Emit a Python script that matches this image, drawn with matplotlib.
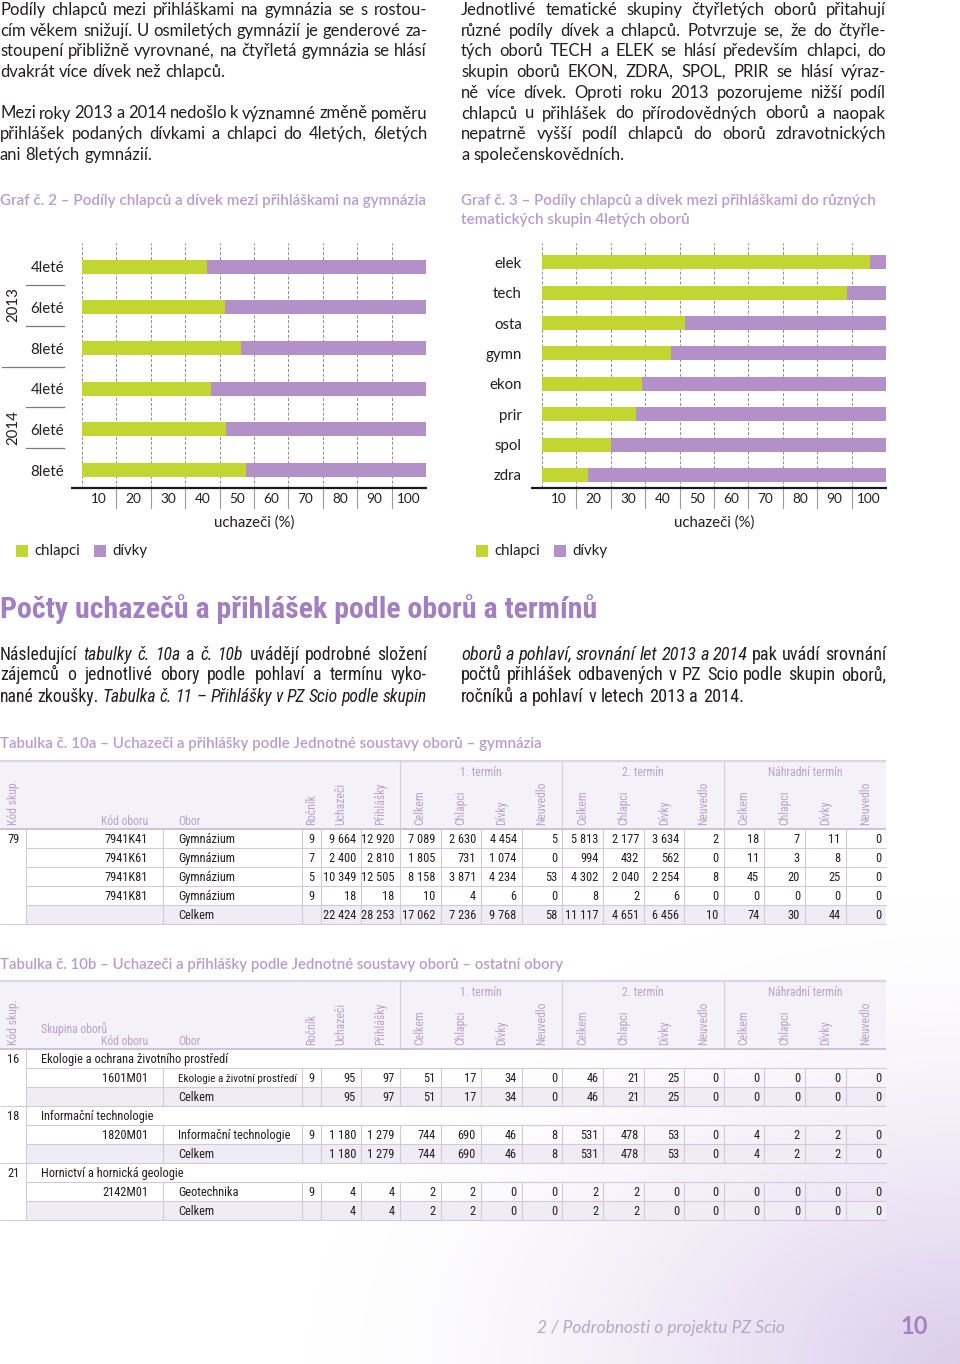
import numpy as np
import matplotlib
matplotlib.use("Agg")
import matplotlib.pyplot as plt
from matplotlib import font_manager as fm
from matplotlib.patches import Rectangle

# ---------------------------------------------------------------- data
gym_labels = ["4leté", "6leté", "8leté", "4leté", "6leté", "8leté"]
gym_years = ["2013", "2014"]
gym_chlapci = [36.4, 41.7, 46.3, 37.4, 41.8, 47.8]
gym_divky = [63.6, 58.3, 53.7, 62.6, 58.2, 52.2]

obor_labels = ["elek", "tech", "osta", "gymn", "ekon", "prir", "spol", "zdra"]
obor_chlapci = [95.3, 88.6, 41.6, 37.4, 29.1, 27.2, 20.0, 13.3]
obor_divky = [4.7, 11.4, 58.4, 62.6, 70.9, 72.8, 80.0, 86.7]

x_tick_labels = ["10", "20", "30", "40", "50", "60", "70", "80", "90", "100"]
legend_labels = ["chlapci", "dívky"]
axis_title = "uchazeči (%)"

col_headers = ["Ročník", "Uchazeči", "Přihlášky",
               "Celkem", "Chlapci", "Dívky", "Neuvedlo",
               "Celkem", "Chlapci", "Dívky", "Neuvedlo",
               "Celkem", "Chlapci", "Dívky", "Neuvedlo"]
term_headers = ["1. termín", "2. termín", "Náhradní termín"]

# Tabulka 10a
t10a_kod_skup = "79"
t10a_kod_oboru = ["7941K41", "7941K61", "7941K81", "7941K81", ""]
t10a_obor = ["Gymnázium", "Gymnázium", "Gymnázium", "Gymnázium", "Celkem"]
t10a_rocnik = ["9", "7", "5", "9", ""]
t10a_uchazeci = [9664, 2400, 10349, 18, 22424]
t10a_prihlasky = [12920, 2810, 12505, 18, 28253]
t10a_t1_celkem = [7089, 1805, 8158, 10, 17062]
t10a_t1_chlapci = [2630, 731, 3871, 4, 7236]
t10a_t1_divky = [4454, 1074, 4234, 6, 9768]
t10a_t1_neuvedlo = [5, 0, 53, 0, 58]
t10a_t2_celkem = [5813, 994, 4302, 8, 11117]
t10a_t2_chlapci = [2177, 432, 2040, 2, 4651]
t10a_t2_divky = [3634, 562, 2254, 6, 6456]
t10a_t2_neuvedlo = [2, 0, 8, 0, 10]
t10a_nt_celkem = [18, 11, 45, 0, 74]
t10a_nt_chlapci = [7, 3, 20, 0, 30]
t10a_nt_divky = [11, 8, 25, 0, 44]
t10a_nt_neuvedlo = [0, 0, 0, 0, 0]

# Tabulka 10b
t10b_group_codes = ["16", "18", "21"]
t10b_group_names = ["Ekologie a ochrana životního prostředí",
                    "Informační technologie",
                    "Hornictví a hornická geologie"]
t10b_kod_oboru = ["1601M01", "", "1820M01", "", "2142M01", ""]
t10b_obor = ["Ekologie a životní prostředí", "Celkem",
             "Informační technologie", "Celkem",
             "Geotechnika", "Celkem"]
t10b_rocnik = ["9", "", "9", "", "9", ""]
t10b_uchazeci = [95, 95, 1180, 1180, 4, 4]
t10b_prihlasky = [97, 97, 1279, 1279, 4, 4]
t10b_t1_celkem = [51, 51, 744, 744, 2, 2]
t10b_t1_chlapci = [17, 17, 690, 690, 2, 2]
t10b_t1_divky = [34, 34, 46, 46, 0, 0]
t10b_t1_neuvedlo = [0, 0, 8, 8, 0, 0]
t10b_t2_celkem = [46, 46, 531, 531, 2, 2]
t10b_t2_chlapci = [21, 21, 478, 478, 2, 2]
t10b_t2_divky = [25, 25, 53, 53, 0, 0]
t10b_t2_neuvedlo = [0, 0, 0, 0, 0, 0]
t10b_nt_celkem = [0, 0, 4, 4, 0, 0]
t10b_nt_chlapci = [0, 0, 2, 2, 0, 0]
t10b_nt_divky = [0, 0, 2, 2, 0, 0]
t10b_nt_neuvedlo = [0, 0, 0, 0, 0, 0]

# texts
left_par1 = ["Podíly chlapců mezi přihláškami na gymnázia se s rostou-",
             "cím věkem snižují. U osmiletých gymnázií je genderové za-",
             "stoupení přibližně vyrovnané, na čtyřletá gymnázia se hlásí",
             "dvakrát více dívek než chlapců."]
left_par2 = ["Mezi roky 2013 a 2014 nedošlo k významné změně poměru",
             "přihlášek podaných dívkami a chlapci do 4letých, 6letých",
             "ani 8letých gymnázií."]
right_par = ["Jednotlivé tematické skupiny čtyřletých oborů přitahují",
             "různé podíly dívek a chlapců. Potvrzuje se, že do čtyřle-",
             "tých oborů TECH a ELEK se hlásí především chlapci, do",
             "skupin oborů EKON, ZDRA, SPOL, PRIR se hlásí výraz-",
             "ně více dívek. Oproti roku 2013 pozorujeme nižší podíl",
             "chlapců u přihlášek do přírodovědných oborů a naopak",
             "nepatrně vyšší podíl chlapců do oborů zdravotnických",
             "a společenskovědních."]

# ---------------------------------------------------------------- style
W, H = 960, 1364
names = {f.name for f in fm.fontManager.ttflist}
BODY = "Lato" if "Lato" in names else "Open Sans"
NARROW = BODY
for cand in ["Liberation Sans Narrow", "Roboto Condensed", "Open Sans Condensed"]:
    if cand in names:
        NARROW = cand
        break
plt.rcParams["font.family"] = [BODY, "DejaVu Sans"]

TXT = "#231f20"
GREEN = "#c1d631"
VIOLET = "#b391c8"
TITLE_V = "#b79dcc"
HEAD_V = "#a27fc0"
HDR_TXT = "#b7a3cc"
HDR_BG = "#f4f1f8"
CELK_BG = "#f0ecf5"
LINE = "#d2cadb"

fig = plt.figure(figsize=(9.6, 13.64), dpi=100)
renderer = fig.canvas.get_renderer()

# background glow (bottom-right)
bg = fig.add_axes([0, 0, 1, 1])
bg.set_zorder(-5)
bg.axis("off")
yy, xx = np.mgrid[0:H:4, 0:W:4]
d = np.hypot(xx - W, (yy - H) * 1.4)
tt = np.clip(1 - d / 650.0, 0, 1) ** 1.5
lil = np.array([0.86, 0.80, 0.92])
img = 1 - tt[..., None] * (1 - lil)
bg.imshow(img, extent=[0, W, H, 0], aspect="auto", interpolation="bilinear")
bg.set_xlim(0, W)
bg.set_ylim(H, 0)

ov = fig.add_axes([0, 0, 1, 1])
ov.set_zorder(1)
ov.set_xlim(0, W)
ov.set_ylim(H, 0)
ov.axis("off")
ov.patch.set_visible(False)


def width(t):
    return t.get_window_extent(renderer=renderer).width


def fit_text(x, y, s, target_w, fs_max, **kw):
    t = ov.text(x, y, s, fontsize=fs_max, **kw)
    w = width(t)
    t.set_fontsize(fs_max * min(1.0, target_w / w))
    return t


def toks(s, style="normal"):
    return [(w, style) for w in s.split()]


def draw_lines(lines, x0, x1, ys, fs, family, justify, color=TXT):
    objs = []
    for line in lines:
        row = [ov.text(0, 0, w, fontsize=fs, family=family, style=st,
                       color=color, va="baseline", ha="left") for w, st in line]
        objs.append(row)
    Wt = x1 - x0
    sp = fs * 100 / 72 * 0.25
    ratio = 1.0
    for row in objs:
        need = sum(width(t) for t in row) + 0.8 * sp * (len(row) - 1)
        ratio = min(ratio, Wt / need)
    if ratio < 1:
        for row in objs:
            for t in row:
                t.set_fontsize(fs * ratio)
        sp *= ratio
    for row, j, y in zip(objs, justify, ys):
        ws = [width(t) for t in row]
        gap = (Wt - sum(ws)) / (len(row) - 1) if (j and len(row) > 1) else sp
        x = x0
        for t, w in zip(row, ws):
            t.set_position((x, y))
            x += w + gap


# ---------------------------------------------------------------- paragraphs
pitch = 20.7
draw_lines([toks(s) for s in left_par1], 0, 427,
           [10 + pitch * k + 5 for k in range(4)], 12, BODY, [1, 1, 1, 0])
draw_lines([toks(s) for s in left_par2], 0, 427,
           [10 + pitch * k + 5 for k in range(5, 8)], 12, BODY, [1, 1, 0])
draw_lines([toks(s) for s in right_par], 461, 886,
           [10 + pitch * k + 5 for k in range(8)], 12, BODY, [1, 1, 1, 1, 1, 1, 1, 0])

fit_text(0, 201, "Graf č. 2 – Podíly chlapců a dívek mezi přihláškami na gymnázia",
         426, 11, color=TITLE_V, weight="semibold", va="center", ha="left")
fit_text(461, 201, "Graf č. 3 – Podíly chlapců a dívek mezi přihláškami do různých",
         414, 11, color=TITLE_V, weight="semibold", va="center", ha="left")
fit_text(461, 220, "tematických skupin 4letých oborů",
         228, 11, color=TITLE_V, weight="semibold", va="center", ha="left")


# ---------------------------------------------------------------- charts
def bar_chart(x_left, x_right, y_top, y_bot, c_first, c_last, labels, ch, dv,
              bar_px, pad_px):
    n = len(labels)
    p = (c_last - c_first) / (n - 1)
    ax = fig.add_axes([x_left / W, 1 - y_bot / H, (x_right - x_left) / W,
                       (y_bot - y_top) / H])
    ax.set_zorder(2)
    ax.patch.set_visible(False)
    y = np.arange(n)
    ax.set_xlim(0, 100)
    ax.set_ylim(n - 1 + (y_bot - c_last) / p, -(c_first - y_top) / p)
    for gx in range(0, 101, 10):
        ax.axvline(gx, color="#8c8c8c", lw=0.7, ls=(0, (3, 2)), zorder=0)
    h = bar_px / p
    ax.barh(y, ch, height=h, color=GREEN, zorder=2, lw=0)
    ax.barh(y, dv, left=ch, height=h, color=VIOLET, zorder=2, lw=0)
    ax.set_yticks(y, labels)
    ax.set_xticks(np.arange(5, 100, 10), x_tick_labels)
    ax.tick_params(axis="y", length=0, pad=pad_px * 0.72, labelsize=10.8,
                   labelcolor=TXT)
    ax.tick_params(axis="x", length=0, pad=3.5, labelsize=9.8, labelcolor=TXT)
    for s in ax.spines.values():
        s.set_visible(False)
    tr = ax.get_xaxis_transform()
    hh = y_bot - y_top
    for gx in range(10, 100, 10):
        ax.plot([gx, gx], [0, -20 / hh], transform=tr, color="#9a9a9a",
                lw=0.8, clip_on=False)
    ax.plot([-11 / (x_right - x_left) * 100, 100.3], [0, 0], transform=tr,
            color="#1a1a1a", lw=1.6, clip_on=False, solid_capstyle="butt")
    return ax


bar_chart(82, 426, 243, 488.3, 266.7, 470, gym_labels, gym_chlapci, gym_divky, 14, 18)
bar_chart(542, 886, 243, 488.3, 262.3, 475, obor_labels, obor_chlapci, obor_divky, 14, 20)

# year grouping (left chart)
for yline in (285, 326, 407.3, 448.3):
    ov.plot([25.7, 64.3], [yline, yline], color="#7a7a7a", lw=0.9)
ov.plot([1.7, 64.3], [366.7, 366.7], color="#7a7a7a", lw=0.9)
ov.text(13.3, 305, gym_years[0], rotation=90, ha="center", va="center",
        fontsize=10.8, color=TXT)
ov.text(13.3, 427.3, gym_years[1], rotation=90, ha="center", va="center",
        fontsize=10.8, color=TXT)

for x0 in (0, 460):
    ov.text(x0 + 254, 523, axis_title, ha="center", va="center", fontsize=10.8, color=TXT)
    ov.add_patch(Rectangle((x0 + 15.7, 544.5), 12, 12, fc=GREEN, ec="none"))
    ov.text(x0 + 34.3, 550.5, legend_labels[0], ha="left", va="center", fontsize=10.8, color=TXT)
    ov.add_patch(Rectangle((x0 + 94, 544.5), 12, 12, fc=VIOLET, ec="none"))
    ov.text(x0 + 112.7, 550.5, legend_labels[1], ha="left", va="center", fontsize=10.8, color=TXT)

# ---------------------------------------------------------------- section title + paragraph
fit_text(0, 609, "Počty uchazečů a přihlášek podle oborů a termínů", 598, 26,
         family=[NARROW, BODY], color=HEAD_V, weight="semibold", va="center", ha="left")

low_left = [
    toks("Následující") + toks("tabulky č. 10a", "italic") + toks("a") +
    toks("č. 10b", "italic") + toks("uvádějí podrobné složení"),
    toks("zájemců o jednotlivé obory podle pohlaví a termínu vyko-"),
    toks("nané zkoušky.") + toks("Tabulka č. 11 – Přihlášky v PZ Scio podle skupin", "italic"),
]
low_right = [
    toks("oborů a pohlaví, srovnání let 2013 a 2014", "italic") + toks("pak uvádí srovnání"),
    toks("počtů přihlášek odbavených v PZ Scio podle skupin oborů,"),
    toks("ročníků a pohlaví v letech 2013 a 2014."),
]
draw_lines(low_left, 0, 427, [659.5, 680.5, 701.5], 14, [NARROW, BODY], [1, 1, 1])
draw_lines(low_right, 461, 886, [659.5, 680.5, 701.5], 14, [NARROW, BODY], [1, 1, 0])

# ---------------------------------------------------------------- tables
edges = [0, 25.7, 163.3, 301.7, 320.7, 361.0, 399.5, 440.7, 481.0, 521.5,
         562.0, 603.3, 644.3, 684.3, 723.5, 764.3, 805.0, 845.7, 886.0]
TFS = 8.9
HFS = 8.5
RH = 19


def hline(x0, x1, y, color=LINE, lw=0.8):
    ov.plot([x0, x1], [y, y], color=color, lw=lw, solid_capstyle="butt", zorder=3)


def vline(x, y0, y1, color=LINE, lw=0.8):
    ov.plot([x, x], [y0, y1], color=color, lw=lw, solid_capstyle="butt", zorder=3)


def fmt(v):
    return f"{v:,}".replace(",", " ")


def cell(x, y, s, ha, maxw=None, color=TXT, fs=TFS):
    t = ov.text(x, y, s, ha=ha, va="baseline", fontsize=fs, family=[NARROW, BODY],
                color=color, zorder=5)
    if maxw:
        w = width(t)
        if w > maxw:
            t.set_fontsize(fs * maxw / w)
    return t


def table_header(y_top, y_bot, skupina):
    ov.add_patch(Rectangle((0, y_top), 886, y_bot - y_top, fc=HDR_BG, ec="none", zorder=1))
    hline(0, 886, y_top, color="#ddd5e6", lw=1.6)
    hline(0, 886, y_bot, color="#c6b8d6", lw=1.2)
    for c in (6, 10, 14):
        vline(edges[c], y_top, y_bot, color="#d6cce2")
    for k, name in enumerate(term_headers):
        cx = (edges[6 + 4 * k] + edges[10 + 4 * k]) / 2
        ov.text(cx, y_top + 12, name, ha="center", va="center", fontsize=HFS,
                family=[NARROW, BODY], color=HDR_TXT, zorder=5)
    ov.text(13.5, y_bot - 4, "Kód skup.", rotation=90, ha="center", va="bottom",
            fontsize=HFS, family=[NARROW, BODY], color=HDR_TXT, zorder=5)
    if skupina:
        ov.text(41, y_bot - 16, "Skupina oborů", ha="left", va="baseline",
                fontsize=HFS, family=[NARROW, BODY], color=HDR_TXT, zorder=5)
    ov.text(148, y_bot - 4, "Kód oboru", ha="right", va="baseline", fontsize=HFS,
            family=[NARROW, BODY], color=HDR_TXT, zorder=5)
    ov.text(178, y_bot - 4, "Obor", ha="left", va="baseline", fontsize=HFS,
            family=[NARROW, BODY], color=HDR_TXT, zorder=5)
    for i, name in enumerate(col_headers):
        c = 3 + i
        cx = (edges[c] + edges[c + 1]) / 2
        ov.text(cx, y_bot - 4, name, rotation=90, ha="center", va="bottom",
                fontsize=HFS, family=[NARROW, BODY], color=HDR_TXT, zorder=5)


def data_row(top, kod, obor, rocnik, values, celkem):
    base = top + RH / 2 + 4.3
    if celkem:
        ov.add_patch(Rectangle((edges[1], top), 886 - edges[1], RH, fc=CELK_BG,
                               ec="none", zorder=1))
    if kod:
        cell(148, base, kod, "right")
    cell(178, base, obor, "left", maxw=edges[3] - 178 - 4)
    if rocnik:
        cell((edges[3] + edges[4]) / 2, base, rocnik, "center")
    for j, v in enumerate(values):
        cell(edges[5 + j] - 5, base, fmt(v), "right")


# Tabulka 10a
fit_text(0, 744, "Tabulka č. 10a – Uchazeči a přihlášky podle Jednotné soustavy oborů – gymnázia",
         543, 11.5, color=TITLE_V, weight="semibold", va="center", ha="left")
h0, h1 = 761, 829
table_header(h0, h1, False)
cols_10a = [t10a_uchazeci, t10a_prihlasky,
            t10a_t1_celkem, t10a_t1_chlapci, t10a_t1_divky, t10a_t1_neuvedlo,
            t10a_t2_celkem, t10a_t2_chlapci, t10a_t2_divky, t10a_t2_neuvedlo,
            t10a_nt_celkem, t10a_nt_chlapci, t10a_nt_divky, t10a_nt_neuvedlo]
n10a = len(t10a_obor)
for i in range(n10a):
    top = h1 + i * RH
    data_row(top, t10a_kod_oboru[i], t10a_obor[i], t10a_rocnik[i],
             [c[i] for c in cols_10a], t10a_obor[i] == "Celkem")
    if i < n10a - 1:
        hline(edges[1], 886, top + RH)
    else:
        hline(0, 886, top + RH)
cell(13.5, h1 + RH / 2 + 4.3, t10a_kod_skup, "center")
for c in range(1, 18):
    vline(edges[c], h1, h1 + n10a * RH)

# Tabulka 10b
fit_text(0, 965, "Tabulka č. 10b – Uchazeči a přihlášky podle Jednotné soustavy oborů – ostatní obory",
         569, 11.5, color=TITLE_V, weight="semibold", va="center", ha="left")
h0, h1 = 981, 1049
table_header(h0, h1, True)
cols_10b = [t10b_uchazeci, t10b_prihlasky,
            t10b_t1_celkem, t10b_t1_chlapci, t10b_t1_divky, t10b_t1_neuvedlo,
            t10b_t2_celkem, t10b_t2_chlapci, t10b_t2_divky, t10b_t2_neuvedlo,
            t10b_nt_celkem, t10b_nt_chlapci, t10b_nt_divky, t10b_nt_neuvedlo]
r = 0
for g in range(len(t10b_group_codes)):
    gtop = h1 + r * RH
    gb = gtop + RH / 2 + 4.3
    cell(13.5, gb, t10b_group_codes[g], "center")
    cell(41, gb, t10b_group_names[g], "left")
    hline(edges[1], 886, gtop + RH)
    r += 1
    block_top = h1 + r * RH
    for k in range(2):
        i = 2 * g + k
        top = h1 + r * RH
        data_row(top, t10b_kod_oboru[i], t10b_obor[i], t10b_rocnik[i],
                 [c[i] for c in cols_10b], t10b_obor[i] == "Celkem")
        hline(edges[1] if k == 0 else 0, 886, top + RH)
        r += 1
    for c in range(2, 18):
        vline(edges[c], block_top, h1 + r * RH)
vline(edges[1], h1, h1 + r * RH)

# ---------------------------------------------------------------- footer
fit_text(537, 1328, "2 / Podrobnosti o projektu PZ Scio", 275, 12.5,
         style="italic", color="#b3a9c6", va="center", ha="left")
ov.text(928, 1326, "10", ha="right", va="center", fontsize=17, weight="bold",
        color="#a682c1")

fig.savefig("out.png", dpi=100)
